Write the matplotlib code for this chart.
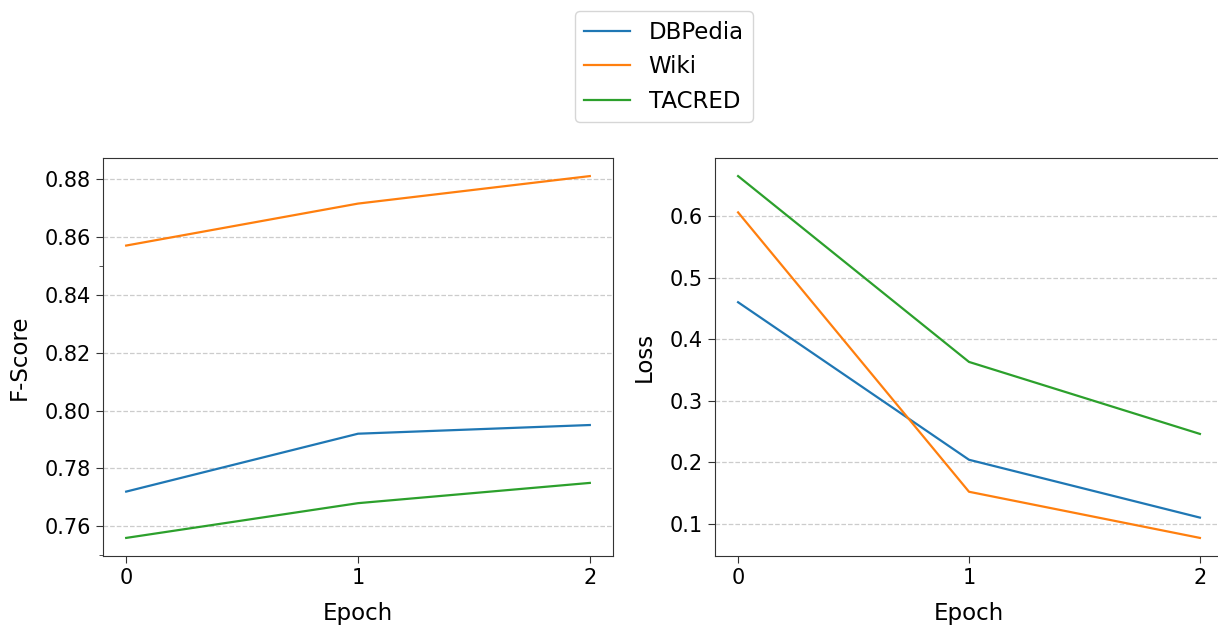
import matplotlib
matplotlib.use("Agg")
import matplotlib.pyplot as plt
from matplotlib.ticker import MultipleLocator, FormatStrFormatter

epochs = [0, 1, 2]
series_names = ["DBPedia", "Wiki", "TACRED"]

fscore_dbpedia = [0.772, 0.792, 0.795]
fscore_wiki = [0.857, 0.8715, 0.881]
fscore_tacred = [0.756, 0.768, 0.775]

loss_dbpedia = [0.460, 0.204, 0.110]
loss_wiki = [0.606, 0.152, 0.077]
loss_tacred = [0.665, 0.363, 0.246]

colors = ["#1f77b4", "#ff7f0e", "#2ca02c"]

plt.rcParams["font.family"] = ["DejaVu Sans"]
plt.rcParams["axes.edgecolor"] = "#333333"
plt.rcParams["xtick.color"] = "#333333"
plt.rcParams["ytick.color"] = "#333333"
plt.rcParams["xtick.labelcolor"] = "black"
plt.rcParams["ytick.labelcolor"] = "black"

W, H = 1218, 625
fig = plt.figure(figsize=(W / 100, H / 100), dpi=100)

ax1 = fig.add_axes([103 / W, (H - 556) / H, 510 / W, 398 / H])
ax2 = fig.add_axes([715 / W, (H - 556) / H, 508 / W, 398 / H])

lines = []
for vals, name, c in zip([fscore_dbpedia, fscore_wiki, fscore_tacred], series_names, colors):
    ln, = ax1.plot(epochs, vals, color=c, lw=1.6, label=name)
    lines.append(ln)
for vals, name, c in zip([loss_dbpedia, loss_wiki, loss_tacred], series_names, colors):
    ax2.plot(epochs, vals, color=c, lw=1.6, label=name)

ax1.yaxis.set_major_locator(MultipleLocator(0.02))
ax1.yaxis.set_minor_locator(MultipleLocator(0.05))
ax1.tick_params(axis="y", which="minor", length=3, labelleft=False)
ax2.yaxis.set_major_locator(MultipleLocator(0.1))

for ax, ylabel in [(ax1, "F-Score"), (ax2, "Loss")]:
    ax.set_xticks(epochs)
    ax.set_xlabel("Epoch", fontsize=16.5, labelpad=10)
    ax.set_ylabel(ylabel, fontsize=16.5, labelpad=10)
    ax.tick_params(axis="both", which="major", labelsize=15, length=5)
    ax.grid(axis="y", linestyle="--", color="#cccccc", lw=0.9)
    ax.set_axisbelow(True)

ax1.yaxis.set_major_formatter(FormatStrFormatter("%.2f"))
ax2.yaxis.set_major_formatter(FormatStrFormatter("%.1f"))

fig.legend(handles=lines, loc="upper center", bbox_to_anchor=(664 / W, 1.0),
           fontsize=16.5, frameon=True, handlelength=2.0)

fig.savefig("out.png", dpi=100)
